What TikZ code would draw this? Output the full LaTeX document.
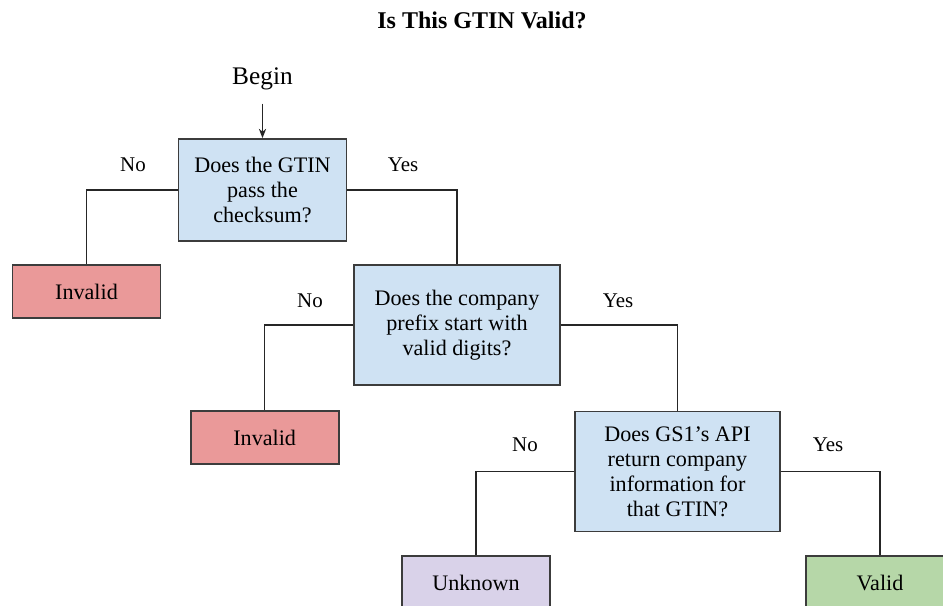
\documentclass[tikz,border=0pt]{standalone}
\usepackage{fontspec}
\setmainfont{Liberation Serif}
\usetikzlibrary{arrows.meta}
\definecolor{qblue}{HTML}{CFE2F3}
\definecolor{qred}{HTML}{EA9999}
\definecolor{qpurple}{HTML}{D9D2E9}
\definecolor{qgreen}{HTML}{B6D7A8}
\definecolor{qborder}{HTML}{3C3C3C}
\begin{document}
\begin{tikzpicture}[x=0.75pt,y=-0.75pt,
  boxbase/.style={draw=qborder,line width=1.4pt,inner sep=0pt,align=center,
    font=\fontsize{16.6}{18.75}\selectfont},
  question/.style={boxbase,fill=qblue},
  outcome/.style={boxbase,minimum width=111pt,minimum height=40pt},
  lbl/.style={inner sep=0pt,font=\fontsize{15.7}{18}\selectfont},
  conn/.style={draw=black!85,line width=1pt}]
\useasboundingbox (0,0) rectangle (943,606);
\clip (0,0) rectangle (943,606);
\node[inner sep=0pt,font=\fontsize{18}{22}\selectfont\bfseries] (title) at (482,20) {Is This GTIN Valid?};
\node[inner sep=0pt,font=\fontsize{19}{22}\selectfont] (begin) at (262.5,79) {Begin};

\node[question,minimum width=126pt,minimum height=76.5pt] (q1) at (262.5,190) {Does the GTIN\\pass the\\checksum?};
\node[question,minimum width=154.5pt,minimum height=90pt] (q2) at (457,325) {Does the company\\prefix start with\\valid digits?};
\node[question,minimum width=153.75pt,minimum height=90pt] (q3) at (677.5,471.5) {Does GS1's API\\return company\\information for\\that GTIN?};

\node[outcome,fill=qred] (inv1) at (86.5,291.5) {Invalid};
\node[outcome,fill=qred] (inv2) at (264.7,437.5) {Invalid};
\node[outcome,fill=qpurple] (unk) at (476,582.5) {Unknown};
\node[outcome,fill=qgreen] (val) at (880,582.5) {Valid};

\node[lbl] (no1) at (133,165) {No};
\node[lbl] (yes1) at (403,165) {Yes};
\node[lbl] (no2) at (310,301) {No};
\node[lbl] (yes2) at (618,301) {Yes};
\node[lbl] (no3) at (525,445) {No};
\node[lbl] (yes3) at (828,445) {Yes};

\draw[conn,-{Stealth[length=7pt,width=5.5pt]},shorten <=10pt] (begin.south) -- (q1.north);
\draw[conn] (q1.west) -| (inv1.north);
\draw[conn] (q1.east) -| (q2.north);
\draw[conn] (q2.west) -| (inv2.north);
\draw[conn] (q2.east) -| (q3.north);
\draw[conn] (q3.west) -| (unk.north);
\draw[conn] (q3.east) -| (val.north);
\end{tikzpicture}
\end{document}
